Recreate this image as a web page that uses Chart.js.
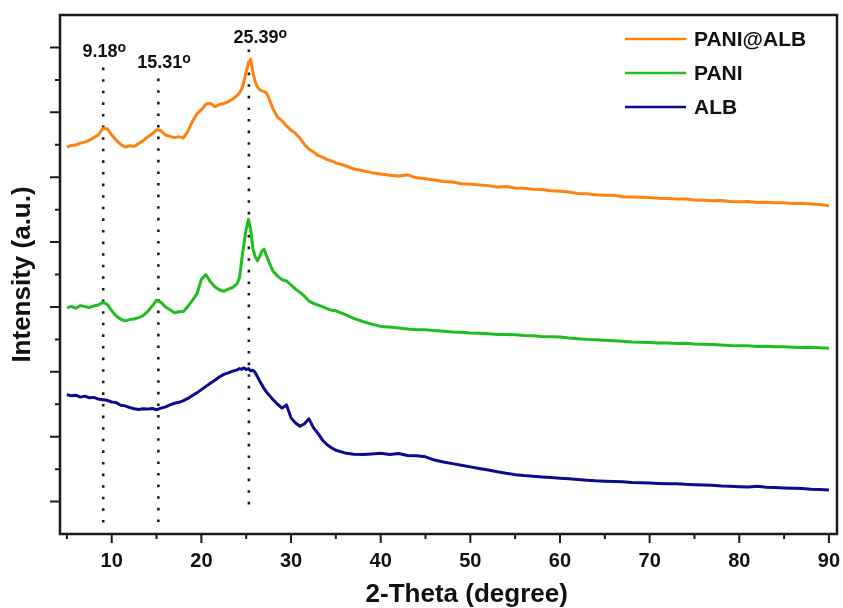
<!DOCTYPE html>
<html><head><meta charset="utf-8">
<script src="https://cdn.jsdelivr.net/npm/chart.js@4.4.0/dist/chart.umd.min.js"></script>
<style>html,body{margin:0;padding:0;background:#fff}#wrap{width:843px;height:608px}</style>
</head><body><div id="wrap"><canvas id="c" width="843" height="608"></canvas></div>
<script>
const twoTheta = [5,5.5,6,6.5,7,7.5,8,8.5,9,9.5,10,10.5,11,11.5,12,12.5,13,13.5,14,14.5,15,15.5,16,16.5,17,17.5,18,18.5,19,19.5,20,20.5,21,21.5,22,22.5,23,23.5,
24,24.25,24.5,24.75,25,25.25,25.5,25.75,26,26.25,26.5,26.75,27,27.25,27.5,27.75,28,
28.5,29,29.5,30,30.5,31,31.5,32,32.5,33,33.5,34,34.5,35,
36,37,38,39,40,41,42,43,44,45,46,47,48,49,50,51,52,53,54,55,56,57,58,59,60,61,62,63,64,65,66,67,68,69,70,71,72,73,74,75,76,77,78,79,80,81,82,83,84,85,86,87,88,89,90];

const paniAlb = [11.93,11.98,11.99,12.05,12.08,12.14,12.22,12.30,12.50,12.49,
12.30,12.14,12.01,11.93,11.97,11.95,12.04,12.12,12.24,12.33,
12.46,12.43,12.30,12.26,12.22,12.25,12.21,12.42,12.72,12.95,
13.08,13.25,13.28,13.17,13.24,13.27,13.33,13.41,
13.52,13.60,13.72,13.95,14.25,14.50,14.64,14.22,13.95,13.78,13.70,13.66,13.64,13.60,13.45,13.28,13.10,
12.85,12.74,12.58,12.45,12.35,12.20,12.01,11.86,11.78,11.67,11.62,11.55,11.50,11.44,
11.36,11.25,11.20,11.14,11.10,11.06,11.04,11.07,10.98,10.95,
10.91,10.87,10.85,10.80,10.78,10.76,10.74,10.70,10.71,10.67,
10.66,10.63,10.62,10.58,10.57,10.54,10.50,10.49,10.46,10.44,
10.44,10.40,10.39,10.38,10.37,10.35,10.34,10.33,10.33,10.30,
10.29,10.27,10.28,10.25,10.24,10.25,10.22,10.23,10.21,10.21,
10.19,10.20,10.17,10.16,10.12];

const pani = [6.97,7.02,6.96,7.04,7.01,6.98,7.03,7.06,7.14,7.08,
6.88,6.72,6.62,6.57,6.61,6.63,6.67,6.73,6.86,7.02,
7.21,7.14,7.00,6.91,6.82,6.85,6.86,7.02,7.20,7.40,
7.85,8.00,7.78,7.62,7.53,7.48,7.55,7.60,
7.72,7.90,8.45,8.95,9.40,9.70,9.38,8.80,8.55,8.42,8.55,8.72,8.78,8.58,8.42,8.25,8.10,
7.95,7.84,7.80,7.68,7.55,7.45,7.33,7.18,7.11,7.06,7.01,6.95,6.90,6.88,
6.77,6.65,6.55,6.47,6.40,6.38,6.35,6.32,6.30,6.30,
6.27,6.25,6.23,6.22,6.20,6.19,6.17,6.15,6.15,6.14,
6.12,6.11,6.09,6.08,6.07,6.04,6.02,6.00,5.99,5.97,
5.96,5.94,5.92,5.91,5.90,5.89,5.89,5.87,5.88,5.86,
5.85,5.84,5.83,5.81,5.80,5.80,5.78,5.79,5.77,5.77,
5.76,5.75,5.76,5.74,5.73];

const alb = [4.30,4.26,4.28,4.22,4.25,4.20,4.21,4.16,4.14,4.12,
4.07,4.05,3.97,3.95,3.90,3.86,3.84,3.86,3.85,3.87,
3.83,3.88,3.92,3.98,4.03,4.06,4.11,4.18,4.27,4.35,
4.45,4.55,4.65,4.74,4.84,4.92,4.97,5.02,
5.06,5.10,5.08,5.12,5.07,5.10,5.03,5.05,4.98,4.85,4.72,4.60,4.48,4.38,4.30,4.22,4.14,
4.00,3.88,3.98,3.58,3.42,3.32,3.40,3.55,3.28,3.10,2.90,2.76,2.66,2.58,
2.50,2.46,2.45,2.47,2.49,2.45,2.48,2.42,2.41,2.38,
2.28,2.22,2.17,2.12,2.07,2.02,1.97,1.92,1.87,1.83,
1.80,1.78,1.76,1.74,1.72,1.70,1.68,1.66,1.64,1.63,
1.62,1.61,1.59,1.58,1.57,1.56,1.55,1.55,1.53,1.52,
1.51,1.50,1.48,1.47,1.46,1.45,1.47,1.44,1.43,1.42,
1.41,1.40,1.38,1.37,1.36];

const seriesLabels = ['PANI@ALB', 'PANI', 'ALB'];
const seriesColors = ['#ff8210', '#1fbd1f', '#0b0b8c'];

const peakLabels = ['9.18', '15.31', '25.39'];
const peakLineX = [9.05, 15.2, 25.3];
const peakLineTop = [14.38, 14.04, 14.94];
const peakLineBottom = [0.28, 0.34, 0.83];
const peakLabelX = [8.69, 15.35, 26.1];
const peakLabelY = [14.70, 14.36, 15.14];

const xTickMajor = [10, 20, 30, 40, 50, 60, 70, 80, 90];
const xTickMinor = [5, 15, 25, 35, 45, 55, 65, 75, 85];
const yTickMajor = [1, 3, 5, 7, 9, 11, 13, 15];
const yTickMinor = [2, 4, 6, 8, 10, 12, 14];

const xTitle = '2-Theta (degree)';
const yTitle = 'Intensity (a.u.)';

const FONT = '"Liberation Sans", Arial, Helvetica, sans-serif';

const toPts = arr => twoTheta.map((t, i) => ({x: t, y: arr[i]}));
const seriesData = [paniAlb, pani, alb];

const datasets = seriesData.map((arr, i) => ({
  label: seriesLabels[i],
  data: toPts(arr),
  borderColor: seriesColors[i],
  borderWidth: 3,
  pointRadius: 0,
  tension: 0,
  borderJoinStyle: 'round',
  fill: false
}));
peakLineX.forEach((v, i) => {
  datasets.push({
    label: '',
    isGuide: true,
    data: [{x: v, y: peakLineTop[i]}, {x: v, y: peakLineBottom[i]}],
    borderColor: '#1a1a1a',
    borderWidth: 2.6,
    borderDash: [2.6, 9],
    borderCapStyle: 'butt',
    pointRadius: 0,
    fill: false
  });
});

const decor = {
  id: 'decor',
  afterDraw(chart) {
    const {ctx, chartArea: a, scales: {x, y}} = chart;
    ctx.save();
    // frame
    ctx.strokeStyle = '#1a1a1a';
    ctx.lineWidth = 2.5;
    ctx.strokeRect(a.left, a.top, a.right - a.left, a.bottom - a.top);
    // ticks
    ctx.lineWidth = 2;
    ctx.beginPath();
    xTickMajor.forEach(v => { const p = x.getPixelForValue(v); ctx.moveTo(p, a.bottom); ctx.lineTo(p, a.bottom + 9); });
    xTickMinor.forEach(v => { const p = x.getPixelForValue(v); ctx.moveTo(p, a.bottom); ctx.lineTo(p, a.bottom + 5); });
    yTickMajor.forEach(v => { const p = y.getPixelForValue(v); ctx.moveTo(a.left, p); ctx.lineTo(a.left - 10, p); });
    yTickMinor.forEach(v => { const p = y.getPixelForValue(v); ctx.moveTo(a.left, p); ctx.lineTo(a.left - 5, p); });
    ctx.stroke();
    // peak labels
    ctx.fillStyle = '#111';
    peakLabels.forEach((t, i) => {
      const px = x.getPixelForValue(peakLabelX[i]);
      const py = y.getPixelForValue(peakLabelY[i]);
      ctx.font = 'bold 18px ' + FONT;
      ctx.textAlign = 'center';
      ctx.textBaseline = 'alphabetic';
      ctx.fillText(t, px, py);
      const w = ctx.measureText(t).width;
      ctx.font = 'bold 14px ' + FONT;
      ctx.textAlign = 'left';
      ctx.fillText('o', px + w / 2, py - 5);
    });
    // legend
    const legX = a.right - 212, legY = a.top + 24, legStep = 34;
    chart.data.datasets.filter(d => !d.isGuide).forEach((d, i) => {
      const yy = legY + i * legStep;
      ctx.strokeStyle = d.borderColor;
      ctx.lineWidth = 2.6;
      ctx.beginPath();
      ctx.moveTo(legX, yy); ctx.lineTo(legX + 61, yy);
      ctx.stroke();
      ctx.fillStyle = '#111';
      ctx.font = 'bold 21px ' + FONT;
      ctx.textAlign = 'left';
      ctx.textBaseline = 'middle';
      ctx.fillText(d.label, legX + 69, yy + 1);
    });
    // axis titles
    ctx.fillStyle = '#111';
    ctx.font = 'bold 26px ' + FONT;
    ctx.textAlign = 'center';
    ctx.textBaseline = 'middle';
    ctx.fillText(xTitle, x.getPixelForValue(49.6), 595);
    ctx.save();
    ctx.translate(23, (a.top + a.bottom) / 2);
    ctx.rotate(-Math.PI / 2);
    ctx.fillText(yTitle, 0, 0);
    ctx.restore();
    ctx.restore();
  }
};

new Chart(document.getElementById('c'), {
  type: 'line',
  data: {datasets},
  options: {
    responsive: false,
    animation: false,
    devicePixelRatio: 1,
    layout: {padding: {top: 15, right: 6, left: 0, bottom: 0}},
    plugins: {legend: {display: false}, tooltip: {enabled: false}},
    scales: {
      x: {
        type: 'linear',
        min: 4.23,
        max: 90.9,
        grid: {display: false, drawTicks: false},
        border: {display: false},
        ticks: {
          stepSize: 10,
          includeBounds: false,
          autoSkip: false,
          maxRotation: 0,
          padding: 15,
          color: '#111',
          font: {family: FONT, size: 20, weight: 'bold'}
        },
        afterFit: s => { s.height = 74; s.paddingLeft = 0; s.paddingRight = 0; }
      },
      y: {
        type: 'linear',
        min: 0,
        max: 16,
        grid: {display: false, drawTicks: false},
        border: {display: false},
        ticks: {display: false},
        afterFit: s => { s.width = 60; }
      }
    }
  },
  plugins: [decor]
});
</script>
</body></html>
